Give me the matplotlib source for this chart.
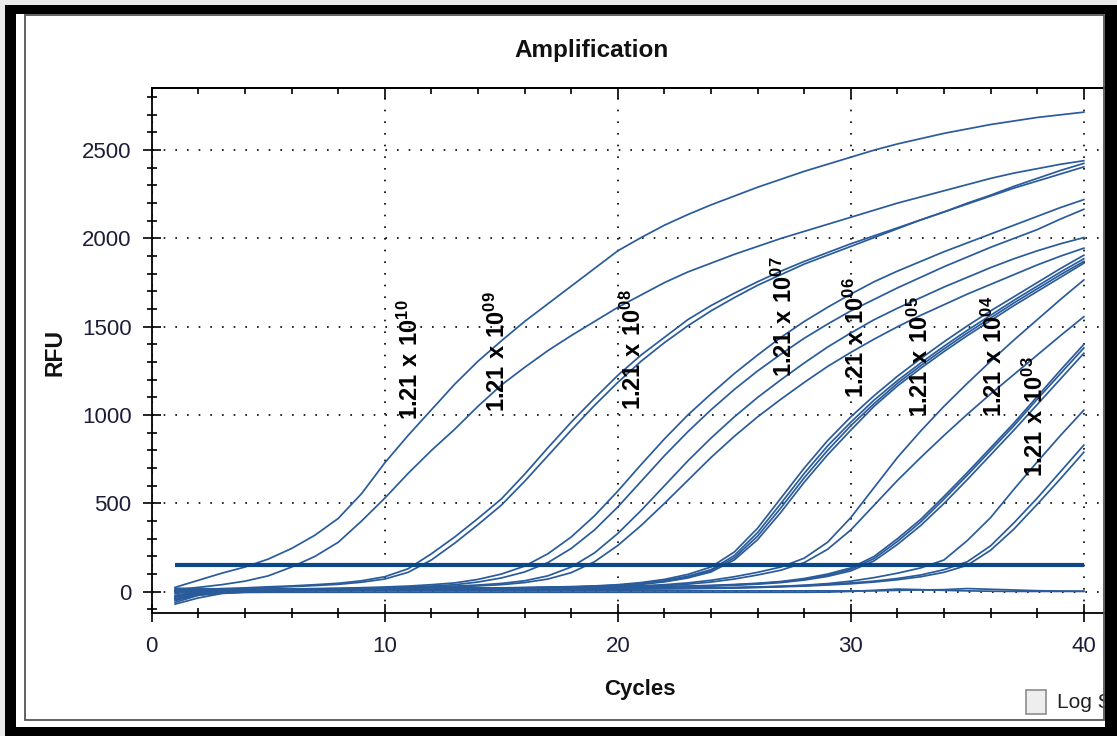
import matplotlib
matplotlib.use("Agg")
import matplotlib.pyplot as plt
from matplotlib.patches import Rectangle
from matplotlib.ticker import MultipleLocator

plt.rcParams['font.family'] = ['Liberation Sans', 'DejaVu Sans']
plt.rcParams['mathtext.fontset'] = 'custom'
plt.rcParams['mathtext.rm'] = 'Liberation Sans:bold'
plt.rcParams['mathtext.bf'] = 'Liberation Sans:bold'

# cycle numbers and RFU per cycle (one list per well)
cycles = list(range(1, 41))

A = [25, 65, 105, 140, 185, 245, 320, 415, 555, 730,
     885, 1030, 1175, 1305, 1420, 1530, 1630, 1730, 1830, 1930,
     2005, 2075, 2135, 2190, 2240, 2290, 2335, 2380, 2420, 2460,
     2500, 2535, 2565, 2595, 2620, 2645, 2665, 2685, 2700, 2715]
B = [10, 25, 40, 60, 90, 140, 200, 280, 400, 530,
     670, 800, 920, 1050, 1170, 1270, 1365, 1450, 1530, 1610,
     1680, 1750, 1810, 1860, 1910, 1955, 2000, 2040, 2080, 2120,
     2160, 2200, 2235, 2270, 2305, 2340, 2370, 2395, 2420, 2440]
C1 = [5, 12, 18, 22, 28, 33, 40, 48, 62, 85,
      130, 215, 310, 415, 525, 665, 815, 960, 1095, 1225,
      1340, 1440, 1540, 1620, 1690, 1755, 1815, 1870, 1920, 1970,
      2015, 2060, 2105, 2150, 2195, 2240, 2285, 2325, 2365, 2405]
C2 = [-10, 5, 12, 18, 24, 29, 35, 42, 54, 72,
      110, 180, 275, 380, 490, 625, 770, 915, 1055, 1185,
      1305, 1410, 1505, 1590, 1665, 1735, 1795, 1855, 1905, 1955,
      2005, 2055, 2105, 2150, 2200, 2245, 2295, 2340, 2385, 2425]
D1 = [5, 8, 10, 12, 14, 16, 18, 20, 23, 27,
      32, 40, 50, 70, 100, 145, 215, 310, 430, 570,
      720, 865, 1000, 1120, 1235, 1340, 1440, 1530, 1610, 1685,
      1755, 1815, 1870, 1925, 1975, 2025, 2075, 2125, 2175, 2220]
D2 = [-20, 0, 5, 8, 10, 12, 14, 16, 18, 22,
      26, 32, 40, 55, 78, 112, 165, 245, 350, 480,
      625, 770, 905, 1030, 1145, 1250, 1345, 1435, 1515, 1590,
      1655, 1720, 1780, 1840, 1895, 1950, 2000, 2050, 2110, 2165]
E1 = [5, 8, 10, 12, 13, 15, 16, 18, 20, 22,
      25, 28, 32, 38, 47, 62, 90, 140, 220, 330,
      460, 600, 740, 870, 990, 1100, 1200, 1295, 1385, 1465,
      1540, 1605, 1665, 1725, 1780, 1835, 1885, 1930, 1970, 2005]
E2 = [-30, -5, 5, 9, 11, 12, 14, 16, 18, 20,
      22, 25, 28, 33, 40, 52, 72, 108, 170, 262,
      375, 500, 630, 760, 880, 990, 1090, 1185, 1275, 1355,
      1430, 1500, 1565, 1625, 1685, 1740, 1795, 1850, 1900, 1945]
F1 = [0, 5, 8, 10, 12, 13, 14, 15, 16, 17,
      18, 19, 20, 21, 22, 24, 26, 29, 33, 40,
      52, 70, 98, 140, 225, 360, 530, 700, 855, 990,
      1110, 1220, 1320, 1415, 1505, 1590, 1670, 1750, 1830, 1905]
F2 = [-40, -10, 5, 8, 10, 12, 13, 14, 15, 16,
      17, 18, 19, 20, 21, 23, 25, 27, 31, 37,
      47, 63, 88, 125, 205, 335, 500, 670, 825, 960,
      1085, 1195, 1295, 1390, 1480, 1565, 1650, 1730, 1810, 1885]
F3 = [-60, -20, 0, 5, 8, 10, 12, 13, 14, 15,
      16, 17, 18, 19, 20, 22, 24, 26, 30, 35,
      44, 59, 82, 118, 192, 315, 475, 645, 800, 940,
      1065, 1180, 1280, 1375, 1465, 1550, 1635, 1715, 1795, 1870]
F4 = [20, 18, 16, 15, 14, 14, 14, 14, 15, 15,
      16, 17, 18, 19, 20, 21, 23, 25, 28, 33,
      42, 56, 78, 112, 180, 295, 450, 620, 775, 915,
      1050, 1165, 1265, 1360, 1450, 1535, 1620, 1700, 1780, 1860]
G1 = [0, 5, 8, 10, 11, 12, 13, 14, 15, 16,
      17, 18, 19, 20, 21, 22, 23, 25, 27, 30,
      34, 40, 50, 65, 85, 110, 140, 190, 280, 420,
      590, 760, 910, 1050, 1180, 1305, 1425, 1540, 1655, 1765]
G2 = [-50, -15, 0, 5, 8, 10, 11, 12, 13, 14,
      15, 16, 17, 18, 19, 20, 21, 22, 24, 27,
      30, 35, 43, 55, 72, 95, 122, 165, 240, 350,
      490, 630, 760, 885, 1005, 1120, 1230, 1340, 1450, 1557]
H1 = [0, 5, 8, 10, 11, 12, 13, 14, 15, 16,
      16, 17, 18, 19, 20, 21, 22, 23, 24, 25,
      27, 29, 32, 36, 41, 48, 58, 75, 100, 135,
      200, 300, 410, 540, 675, 815, 955, 1105, 1255, 1400]
H2 = [-30, 0, 5, 8, 10, 11, 12, 13, 14, 15,
      15, 16, 17, 18, 19, 20, 21, 22, 23, 24,
      26, 28, 31, 34, 39, 46, 55, 70, 93, 127,
      188, 285, 395, 525, 660, 800, 940, 1090, 1235, 1380]
H3 = [10, 8, 8, 9, 10, 10, 11, 12, 13, 14,
      14, 15, 16, 17, 18, 19, 20, 21, 22, 23,
      25, 27, 29, 32, 37, 43, 52, 66, 87, 118,
      175, 268, 375, 500, 635, 775, 915, 1060, 1205, 1350]
I1 = [0, 4, 6, 8, 9, 10, 10, 11, 11, 12,
      12, 13, 13, 14, 14, 15, 15, 16, 16, 17,
      18, 19, 20, 22, 24, 27, 31, 37, 46, 60,
      80, 105, 135, 180, 290, 420, 580, 735, 885, 1028]
J1 = [-25, 0, 4, 6, 7, 8, 9, 10, 10, 11,
      11, 12, 12, 13, 13, 14, 14, 15, 15, 16,
      17, 18, 19, 21, 23, 26, 30, 35, 42, 50,
      60, 75, 95, 125, 170, 260, 390, 530, 680, 830]
J2 = [-40, -12, 2, 5, 6, 7, 8, 8, 9, 9,
      10, 10, 11, 11, 12, 12, 13, 13, 14, 15,
      16, 17, 18, 19, 21, 24, 28, 32, 38, 45,
      55, 68, 85, 110, 150, 235, 355, 495, 640, 790]
N1 = [-70, -35, -10, -2, 2, 4, 5, 5, 5, 5,
      5, 5, 5, 5, 5, 5, 5, 5, 5, 5,
      5, 5, 5, 5, 5, 5, 5, 5, 5, 5,
      5, 8, 10, 12, 18, 14, 10, 6, 4, 3]
N2 = [-45, -20, -8, -4, -3, -3, -3, -3, -3, -3,
      -3, -3, -3, -3, -3, -3, -3, -3, -3, -3,
      -3, -3, -3, -3, -3, -3, -3, -3, -2, 2,
      8, 15, 12, 8, 5, 3, 2, 2, 2, 2]

wells = [A, B, C1, C2, D1, D2, E1, E2, F1, F2, F3, F4,
         G1, G2, H1, H2, H3, I1, J1, J2, N1, N2]
threshold = 150

# dilution labels (exponent) and where they sit on the plot
exponents = ['10', '09', '08', '07', '06', '05', '04', '03']
label_cycle = [11.08, 14.84, 20.65, 27.13, 30.25, 32.97, 36.15, 37.91]
label_rfu = [975, 1020, 1030, 1215, 1095, 990, 990, 650]

W, H = 1117, 736
fig = plt.figure(figsize=(W / 100, H / 100), dpi=100, facecolor='#e9e9e9')


def box(x0, y0, x1, y1, **kw):
    # rectangle given in picture pixels (origin top left)
    r = Rectangle((x0 / W, 1 - y1 / H), (x1 - x0) / W, (y1 - y0) / H,
                  transform=fig.transFigure, figure=fig, **kw)
    fig.patches.append(r)
    return r


box(14, 13, 1106, 728, facecolor='white', edgecolor='none', zorder=-1)

ax = fig.add_axes([151.8 / W, 1 - 613.3 / H, (1104.8 - 151.8) / W, (613.3 - 88.3) / H])
ax.set_axisbelow(True)

curve_color = '#2a5b9a'
for rfu in wells:
    ax.plot(cycles, rfu, color=curve_color, lw=1.25, solid_joinstyle='round', zorder=2)
ax.plot([cycles[0], cycles[-1]], [threshold, threshold], color='#0c4788', lw=3.0,
        solid_capstyle='butt', zorder=3)

for e, xc, yc in zip(exponents, label_cycle, label_rfu):
    ax.text(xc, yc, r'$\mathbf{1.21\ x\ 10^{%s}}$' % e, rotation=90,
            ha='center', va='bottom', fontsize=17, color='black', zorder=5)

ax.set_xlim(0, 40.9)
ax.set_ylim(-122, 2850)
ax.xaxis.set_major_locator(MultipleLocator(10))
ax.xaxis.set_minor_locator(MultipleLocator(2))
ax.yaxis.set_major_locator(MultipleLocator(500))
ax.yaxis.set_minor_locator(MultipleLocator(100))
ax.tick_params(which='major', direction='inout', length=13, width=1.2,
               labelsize=16, labelcolor='#1d1d3a')
ax.tick_params(which='minor', direction='inout', length=6.5, width=1.2)
ax.tick_params(axis='x', which='major', pad=10)
ax.tick_params(axis='y', which='major', pad=8)
ax.grid(which='major', color='black', linestyle=(0, (1, 6)), linewidth=1.2)
ax.spines['right'].set_visible(False)
for s in ('left', 'bottom', 'top'):
    ax.spines[s].set_linewidth(1.3)

top = ax.secondary_xaxis('top')
top.xaxis.set_major_locator(MultipleLocator(10))
top.xaxis.set_minor_locator(MultipleLocator(2))
top.tick_params(which='major', direction='in', length=8, width=1.2, labeltop=False)
top.tick_params(which='minor', direction='in', length=4, width=1.2)
top.spines['top'].set_linewidth(1.3)

fig.text(592 / W, 1 - 50 / H, 'Amplification', ha='center', va='center',
         fontsize=17.5, fontweight='bold', color='#111111')
fig.text(55 / W, 1 - 352 / H, 'RFU', rotation=90, ha='center', va='center',
         fontsize=16.5, fontweight='bold', color='#111111')
fig.text(640 / W, 1 - 689 / H, 'Cycles', ha='center', va='center',
         fontsize=16, fontweight='bold', color='#111111')

# "Log Scale" checkbox, cut off by the window border as in the screenshot
box(1026, 690, 1046, 714, facecolor='#eeeeee', edgecolor='#8c8c8c', lw=1.2, zorder=4)
fig.text(1057 / W, 1 - 702 / H, 'Log Scale', ha='left', va='center',
         fontsize=15, color='#222222', zorder=4)

# window frame
box(25, 15, 1104, 720, facecolor='none', edgecolor='#555555', lw=1.3, zorder=9)
box(5, 5, W, 14, facecolor='black', edgecolor='none', zorder=10)
box(5, 5, 16, H, facecolor='black', edgecolor='none', zorder=10)
box(5, 727, W, H, facecolor='black', edgecolor='none', zorder=10)
box(1105, 5, W, H, facecolor='black', edgecolor='none', zorder=10)

fig.savefig('out.png', dpi=100, facecolor=fig.get_facecolor())
